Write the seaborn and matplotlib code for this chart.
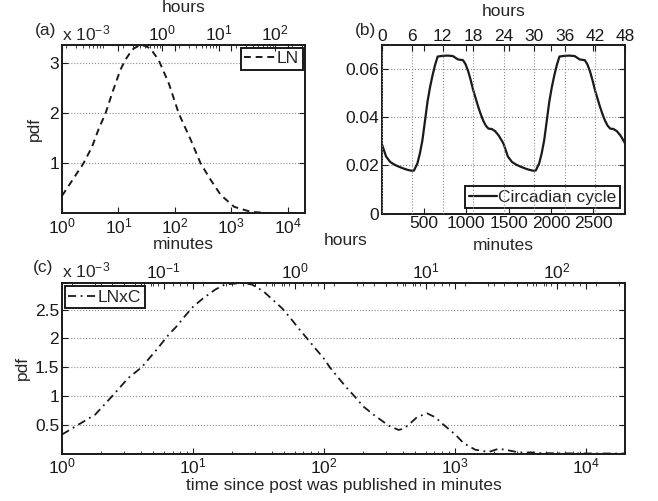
import matplotlib
matplotlib.use('Agg')
import matplotlib.pyplot as plt
import matplotlib.ticker as mticker
import pandas as pd
import seaborn as sns

# data
# (a) log-normal pdf, minutes vs pdf (x 1e-3)
ln_minutes = [1, 1.5, 2.4, 3.4, 4.5, 5.9, 7.7, 10.8, 13.2, 15.8, 18.6, 24.5, 30, 36.8,
              51.5, 78, 117, 191, 285, 430, 645, 1120, 2200, 4360, 20160]
ln_pdf = [0.35, 0.65, 1.0, 1.33, 1.70, 2.0, 2.4, 2.87, 3.07, 3.2, 3.3, 3.37, 3.35, 3.3,
          3.07, 2.6, 2.0, 1.47, 1.0, 0.67, 0.37, 0.13, 0.03, 0.005, 0.0]

# (b) circadian cycle, minutes vs pdf (48 hours)
circ_minutes = [0, 50, 100, 150, 200, 250, 300, 350, 380, 420, 450, 480, 510, 540, 570,
                600, 630, 660, 720, 780, 840, 870, 900, 960, 990, 1020, 1050, 1080, 1110,
                1140, 1170, 1200, 1230, 1260, 1300, 1340, 1380, 1420,
                1440, 1490, 1540, 1590, 1640, 1690, 1740, 1790, 1820, 1860, 1890, 1920,
                1950, 1980, 2010, 2040, 2070, 2100, 2160, 2220, 2280, 2310, 2340, 2400,
                2430, 2460, 2490, 2520, 2550, 2580, 2610, 2640, 2670, 2700, 2740, 2780,
                2820, 2860, 2880]
circ_pdf = [0.0289, 0.0237, 0.0214, 0.0203, 0.0195, 0.0188, 0.0182, 0.0178, 0.0179, 0.0208,
            0.0250, 0.0305, 0.0385, 0.0465, 0.0525, 0.0575, 0.0618, 0.0652, 0.0655, 0.0656,
            0.0654, 0.0647, 0.0640, 0.0637, 0.0620, 0.0592, 0.0555, 0.0513, 0.0478, 0.0443,
            0.0412, 0.0385, 0.0365, 0.0353, 0.0351, 0.0342, 0.0325, 0.0302,
            0.0289, 0.0237, 0.0214, 0.0203, 0.0195, 0.0188, 0.0182, 0.0178, 0.0179, 0.0208,
            0.0250, 0.0305, 0.0385, 0.0465, 0.0525, 0.0575, 0.0618, 0.0652, 0.0655, 0.0656,
            0.0654, 0.0647, 0.0640, 0.0637, 0.0620, 0.0592, 0.0555, 0.0513, 0.0478, 0.0443,
            0.0412, 0.0385, 0.0365, 0.0353, 0.0351, 0.0342, 0.0325, 0.0302, 0.0289]

# (c) LN x C, minutes vs pdf (x 1e-3)
lnc_minutes = [1, 1.33, 1.79, 2.4, 3.2, 4.06, 5.3, 6.5, 7.5, 8.7, 10.1, 12.0, 14.8, 17.6,
               23.6, 28.2, 34.6, 47.8, 55.4, 64, 74, 86, 99.5, 112, 130, 150, 174, 200,
               240, 286, 322, 373, 407, 445, 515, 614, 711, 823, 1011, 1170, 1436, 1815,
               2168, 2500, 3000, 3400, 3800, 4500, 6000, 10000, 20160]
lnc_pdf = [0.33, 0.50, 0.675, 0.99, 1.31, 1.50, 1.81, 2.06, 2.21, 2.39, 2.56, 2.70, 2.85,
           2.94, 2.965, 2.94, 2.82, 2.53, 2.36, 2.18, 2.01, 1.83, 1.66, 1.49, 1.31, 1.14,
           0.98, 0.82, 0.675, 0.55, 0.47, 0.41, 0.43, 0.50, 0.63, 0.70, 0.63, 0.50, 0.33,
           0.18, 0.066, 0.026, 0.083, 0.06, 0.025, 0.015, 0.02, 0.008, 0.003, 0.001, 0.0]

minute_decades = [1, 10, 100, 1000, 10000]

df_ln = pd.DataFrame({'minutes': ln_minutes, 'pdf': ln_pdf})
df_circ = pd.DataFrame({'minutes': circ_minutes, 'pdf': circ_pdf})
df_lnc = pd.DataFrame({'minutes': lnc_minutes, 'pdf': lnc_pdf})

sns.set_theme(style='ticks')
plt.rcParams['font.family'] = ['Liberation Sans', 'DejaVu Sans']
plt.rcParams['mathtext.fontset'] = 'custom'
plt.rcParams['mathtext.rm'] = 'Liberation Sans'
plt.rcParams['mathtext.it'] = 'Liberation Sans:italic'
plt.rcParams['mathtext.default'] = 'regular'
FS = 12.5
plt.rcParams['font.size'] = FS

W, H = 658, 501
fig = plt.figure(figsize=(W / 100, H / 100), dpi=100)


def box(l, t, r, b):
    return [l / W, 1 - b / H, (r - l) / W, (b - t) / H]


def fx(px):
    return px / W


def fy(py):
    return 1 - py / H


grid_kw = dict(color='0.55', linestyle=':', linewidth=0.8)


def style(ax, top):
    for s in ax.spines.values():
        s.set_linewidth(1.4)
        s.set_color('k')
    ax.tick_params(which='both', direction='in', top=True, right=True, labeltop=False,
                   colors='k', labelsize=FS, pad=2)
    ax.tick_params(which='major', length=4, width=0.8)
    ax.tick_params(which='minor', length=2, width=0.6)
    top.tick_params(which='both', direction='in', top=True, bottom=False, labelbottom=False,
                    labeltop=True, colors='k', labelsize=FS, pad=1)
    top.tick_params(which='major', length=4, width=0.8)
    top.tick_params(which='minor', length=2, width=0.6)
    for s in top.spines.values():
        s.set_visible(False)


def legend(ax, loc, anchor, hl):
    leg = ax.legend(loc=loc, bbox_to_anchor=anchor, borderaxespad=0, fancybox=False,
                    framealpha=1, edgecolor='k', fontsize=FS, handlelength=hl,
                    handletextpad=0.1, borderpad=0.2)
    leg.get_frame().set_linewidth(1.4)


# ---- (a)
ax_a = fig.add_axes(box(62, 45, 305, 213.3))
sns.lineplot(data=df_ln, x='minutes', y='pdf', ax=ax_a, color='k', lw=1.4,
             linestyle=(0, (3.5, 2.5)), label='LN')
ax_a.set_xscale('log')
ax_a.set_xlim(1, 20160)
ax_a.set_xticks(minute_decades)
ax_a.set_ylim(0, 3.37)
ax_a.set_yticks([1, 2, 3])
ax_a.yaxis.set_major_formatter(mticker.FormatStrFormatter('%g'))
ax_a.grid(axis='y', **grid_kw)
ax_a.set_xlabel('')
ax_a.set_ylabel('pdf', fontsize=FS)
ax_a.yaxis.set_label_coords(-0.082, 0.5)
top_a = ax_a.twiny()
top_a.set_xscale('log')
top_a.set_xlim(1 / 60, 20160 / 60)
top_a.set_xticks([1, 10, 100])
style(ax_a, top_a)
legend(ax_a, 'upper right', (0.99, 0.985), 1.8)
fig.text(fx(183.5), fy(12.5), 'hours', ha='center', va='baseline', fontsize=FS)
fig.text(fx(183.5), fy(249), 'minutes', ha='center', va='baseline', fontsize=FS)
fig.text(fx(46), fy(34.5), '(a)', ha='center', va='baseline', fontsize=FS)
fig.text(fx(62), fy(40.5), r'x 10$^{-3}$', ha='left', va='baseline', fontsize=FS)

# ---- (b)
ax_b = fig.add_axes(box(381.85, 45, 625.4, 213.6))
sns.lineplot(data=df_circ, x='minutes', y='pdf', ax=ax_b, color='k', lw=1.6,
             label='Circadian cycle')
ax_b.set_xlim(0, 2880)
ax_b.set_ylim(0, 0.07)
ax_b.set_xticks([500, 1000, 1500, 2000, 2500])
ax_b.set_yticks([0, 0.02, 0.04, 0.06])
ax_b.yaxis.set_major_formatter(mticker.FormatStrFormatter('%g'))
ax_b.grid(axis='y', **grid_kw)
ax_b.set_xlabel('')
ax_b.set_ylabel('')
top_b = ax_b.twiny()
top_b.set_xlim(0, 48)
top_b.set_xticks(list(range(0, 49, 6)))
top_b.grid(axis='x', **grid_kw)
style(ax_b, top_b)
legend(ax_b, 'lower right', (0.978, 0.031), 1.6)
fig.text(fx(503.6), fy(16.5), 'hours', ha='center', va='baseline', fontsize=FS)
fig.text(fx(503.6), fy(250), 'minutes', ha='center', va='baseline', fontsize=FS)
fig.text(fx(376), fy(34.5), '(b)', ha='right', va='baseline', fontsize=FS)

# ---- (c)
ax_c = fig.add_axes(box(62, 283, 625.4, 453.5))
sns.lineplot(data=df_lnc, x='minutes', y='pdf', ax=ax_c, color='k', lw=1.3,
             linestyle=(0, (4.5, 2.5, 1, 2.5)), label='LNxC')
ax_c.set_xscale('log')
ax_c.set_xlim(1, 20160)
ax_c.set_xticks(minute_decades)
ax_c.set_ylim(0, 2.965)
ax_c.set_yticks([0.5, 1, 1.5, 2, 2.5])
ax_c.yaxis.set_major_formatter(mticker.FormatStrFormatter('%g'))
ax_c.grid(axis='y', **grid_kw)
ax_c.set_xlabel('time since post was published in minutes', fontsize=FS, labelpad=1)
ax_c.set_ylabel('pdf', fontsize=FS)
ax_c.yaxis.set_label_coords(-0.057, 0.5)
top_c = ax_c.twiny()
top_c.set_xscale('log')
top_c.set_xlim(1 / 60, 20160 / 60)
top_c.set_xticks([0.1, 1, 10, 100])
style(ax_c, top_c)
legend(ax_c, 'upper left', (0.005, 0.981), 1.6)
fig.text(fx(346), fy(245), 'hours', ha='center', va='baseline', fontsize=FS)
fig.text(fx(43), fy(272), '(c)', ha='center', va='baseline', fontsize=FS)
fig.text(fx(62), fy(277), r'x 10$^{-3}$', ha='left', va='baseline', fontsize=FS)

fig.savefig('out.png', dpi=100)
